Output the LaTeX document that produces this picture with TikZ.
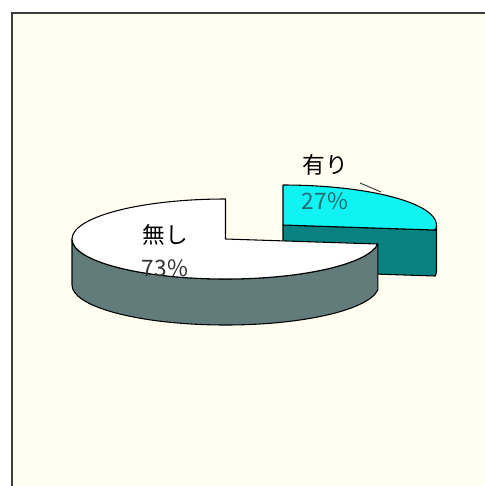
\documentclass[tikz,border=0pt]{standalone}
\usepackage{fontspec}
\setmainfont{Noto Sans CJK JP}
\definecolor{paper}{HTML}{FFFEF0}
\definecolor{framegray}{HTML}{3C3C3C}
\definecolor{aquatop}{HTML}{11F2F2}
\definecolor{tealside}{HTML}{0A8282}
\definecolor{slateside}{HTML}{627C7C}
\definecolor{pcttext}{HTML}{1E6E72}
\tikzset{
  rim/.style={draw=black,line width=0.8pt,line join=round},
  lbl/.style={inner sep=0pt,font=\fontsize{17pt}{20pt}\selectfont},
}

\begin{document}
\begin{tikzpicture}[x=0.75pt,y=0.75pt]
\useasboundingbox (0,0) rectangle (485,-486);
\fill[paper] (12,-13) rectangle (485,-486);
\draw[framegray,line width=1.5pt] (12,-486) -- (12,-13) -- (485,-13);

% slice "yes", pulled out
\begin{scope}[shift={(283,-225)}]
\filldraw[rim,fill=tealside] (0,0) -- (-7.2:153.5 and 40) arc[start angle=-7.2,end angle=0,x radius=153.5,y radius=40]
	-- ++(0,-46) arc[start angle=0,end angle=-7.2,x radius=153.5,y radius=40] -- (0,-46) -- cycle;
\filldraw[rim,fill=aquatop] (0,0) -- (0,40) arc[start angle=90,end angle=-7.2,x radius=153.5,y radius=40] -- cycle;
\end{scope}

% slice "no"
\begin{scope}[shift={(225.5,-239)}]
\filldraw[rim,fill=slateside] (-153.5,0) arc[start angle=180,end angle=352.8,x radius=153.5,y radius=40]
	-- ++(0,-46) arc[start angle=352.8,end angle=180,x radius=153.5,y radius=40] -- cycle;
\filldraw[rim,fill=white] (0,0) -- (0,40) arc[start angle=90,end angle=352.8,x radius=153.5,y radius=40] -- cycle;
\end{scope}

\node[lbl] (yes) at (325,-165) {有り};
\node[lbl,text=pcttext] (yespct) at (325,-201) {27\%};
\node[lbl] (no) at (165,-235) {無し};
\node[lbl,text=black!80] (nopct) at (165,-268) {73\%};
\coordinate (leadA) at (360,-183);
\coordinate (leadB) at (381,-192);
\draw[black!70,line width=0.8pt] (leadA) -- (leadB);
\end{tikzpicture}
\end{document}
